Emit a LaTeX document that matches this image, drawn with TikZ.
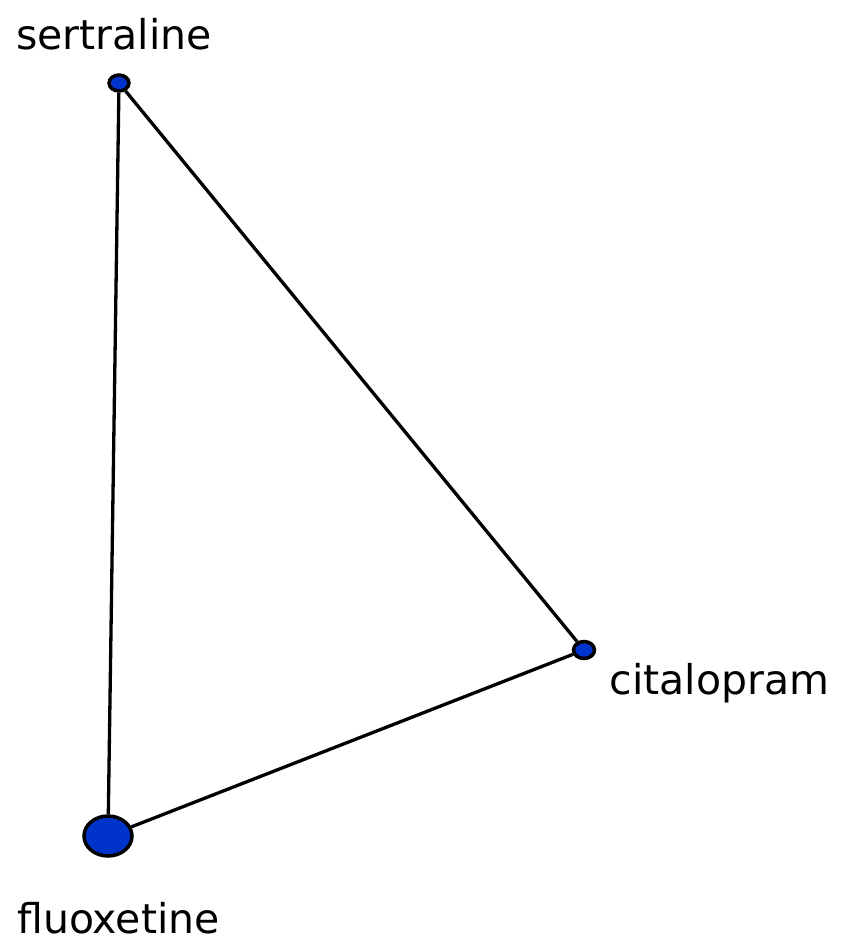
\documentclass[tikz,border=0pt]{standalone}
\usepackage{fontspec}
\setmainfont{DejaVu Sans}
\usetikzlibrary{shapes.geometric}
\definecolor{nodeblue}{HTML}{0033CC}
\begin{document}
\begin{tikzpicture}[x=1pt,y=-1pt,
  drug/.style={ellipse,draw=black,fill=nodeblue,line width=3.5pt,inner sep=0pt},
  lbl/.style={anchor=base,inner sep=0pt,font=\fontsize{41}{48}\selectfont},
  edge/.style={draw=black,line width=3.3pt}]
\useasboundingbox (0,0) rectangle (842,943);
\fill[white] (0,0) rectangle (842,943);
\node[drug,minimum width=20pt,minimum height=16pt] (s) at (119,83) {};
\node[drug,minimum width=21pt,minimum height=17pt] (c) at (584,650) {};
\node[drug,minimum width=48pt,minimum height=40pt] (f) at (108,836) {};
\draw[edge] (s) -- (c);
\draw[edge] (s) -- (f);
\draw[edge] (c) -- (f);
\node[lbl] (ls) at (114,49) {sertraline};
\node[lbl] (lc) at (719.5,694) {citalopram};
\node[lbl] (lf) at (118.5,933) {fluoxetine};
\end{tikzpicture}
\end{document}
